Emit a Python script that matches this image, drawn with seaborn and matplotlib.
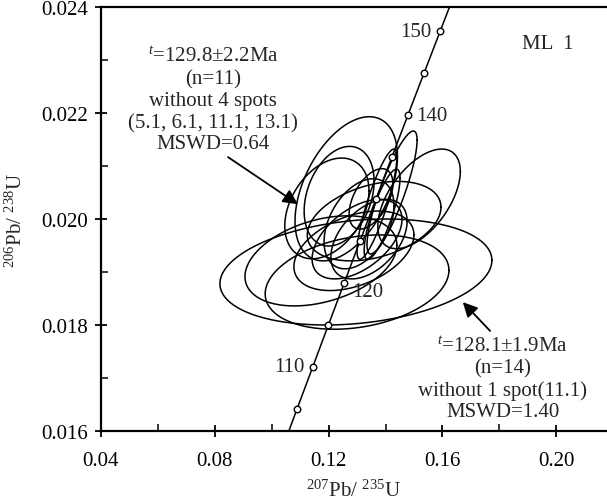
import numpy as np
import pandas as pd
import matplotlib
matplotlib.use("Agg")
import matplotlib.pyplot as plt
import seaborn as sns

# ---- data ----
# ellipse centres (207Pb/235U, 206Pb/238U), 2-sigma half widths and error correlation
ell_x = [0.1296, 0.1300, 0.1173, 0.1289, 0.1300, 0.1262, 0.1237, 0.1423,
         0.1518, 0.1370, 0.1388, 0.1349, 0.1307, 0.1342, 0.1360, 0.1194]
ell_y = [0.01900, 0.01881, 0.01921, 0.01940, 0.01962, 0.02057, 0.02043, 0.02050,
         0.02038, 0.02028, 0.02009, 0.02038, 0.01991, 0.01962, 0.01996, 0.02020]
ell_sx = [0.0478, 0.0323, 0.0267, 0.0211, 0.0158, 0.0180, 0.0123, 0.0088,
          0.0145, 0.0070, 0.0063, 0.0077, 0.0123, 0.0134, 0.0235, 0.0148]
ell_sy = [0.00100, 0.00089, 0.00085, 0.00075, 0.00075, 0.00136, 0.00094, 0.00116,
          0.00094, 0.00104, 0.00085, 0.00057, 0.00085, 0.00075, 0.00075, 0.00095]
ell_rho = [0.22, 0.25, 0.35, 0.40, 0.50, 0.45, 0.30, 0.85,
           0.55, 0.85, 0.80, 0.50, 0.40, 0.45, 0.35, 0.35]

marker_ages = [105, 110, 115, 120, 125, 130, 135, 140, 145, 150]
label_ages = [110, 120, 140, 150]
label_side = ["left", "below-right", "right", "left"]

LAMBDA238 = 1.55125e-10
LAMBDA235 = 9.8485e-10

xticks = [0.04, 0.08, 0.12, 0.16, 0.20]
yticks = [0.016, 0.018, 0.020, 0.022, 0.024]

text1 = ["129.8\u00b12.2Ma", "(n=11)", "without 4 spots", "(5.1, 6.1, 11.1, 13.1)", "MSWD=0.64"]
text2 = ["128.1\u00b11.9Ma", "(n=14)", "without 1 spot(11.1)", "MSWD=1.40"]

# ---- style ----
sns.set_theme(style="white")
plt.rcParams["font.family"] = ["Liberation Serif", "DejaVu Serif"]
plt.rcParams["mathtext.fontset"] = "custom"
plt.rcParams["mathtext.rm"] = "Liberation Serif"
plt.rcParams["mathtext.it"] = "Liberation Serif:italic"
FS = 15

fig = plt.figure(figsize=(6.07, 5.02), dpi=100)
ax = fig.add_axes([101 / 607, 70 / 502, 506 / 607, 424 / 502])

# ellipses
theta = np.linspace(0, 2 * np.pi, 200)
rows = []
for i in range(len(ell_x)):
    r = ell_rho[i]
    xs = ell_x[i] + ell_sx[i] * np.cos(theta)
    ys = ell_y[i] + ell_sy[i] * (r * np.cos(theta) + np.sqrt(1 - r * r) * np.sin(theta))
    rows.append(pd.DataFrame({"x": xs, "y": ys, "id": i}))
edf = pd.concat(rows, ignore_index=True)
sns.lineplot(data=edf, x="x", y="y", units="id", estimator=None, sort=False,
             color="black", linewidth=1.1, ax=ax, legend=False)

# concordia
t = np.linspace(95e6, 160e6, 400)
cdf = pd.DataFrame({"x": np.exp(LAMBDA235 * t) - 1, "y": np.exp(LAMBDA238 * t) - 1})
sns.lineplot(data=cdf, x="x", y="y", sort=False, estimator=None, color="black",
             linewidth=1.1, ax=ax)

ma = np.array(marker_ages) * 1e6
mdf = pd.DataFrame({"x": np.exp(LAMBDA235 * ma) - 1, "y": np.exp(LAMBDA238 * ma) - 1})
sns.scatterplot(data=mdf, x="x", y="y", marker="o", s=22, facecolor="white",
                edgecolor="black", linewidth=1.0, ax=ax, zorder=5)

offsets = {"left": ((-6, 0), "right"), "right": ((6, 0), "left"),
           "below-right": ((6, -6), "left")}
for age, side in zip(label_ages, label_side):
    xa = np.exp(LAMBDA235 * age * 1e6) - 1
    ya = np.exp(LAMBDA238 * age * 1e6) - 1
    off, ha = offsets[side]
    ax.annotate(str(age), (xa, ya), xytext=off, textcoords="offset points",
                ha=ha, va="center", fontsize=FS)

ax.set_xlim(0.04, 0.04 + 506 / 2845)
ax.set_ylim(0.016, 0.024)
ax.set_xticks(xticks)
ax.set_xticklabels([f"{v:.2f}" for v in xticks])
ax.set_yticks(yticks)
ax.set_yticklabels([f"{v:.3f}" for v in yticks])
ax.set_xticks([0.06, 0.10, 0.14, 0.18], minor=True)
ax.set_yticks([0.017, 0.019, 0.021, 0.023], minor=True)
ax.tick_params(axis="both", which="major", direction="inout", length=9, width=1.3,
               color="black", labelsize=FS, labelcolor="black")
ax.tick_params(axis="both", which="minor", direction="in", length=5, width=1.1, color="black")
ax.tick_params(axis="x", which="major", pad=10)
ax.tick_params(axis="y", which="major", pad=5)
ax.tick_params(top=False, right=False, which="both", bottom=True, left=True)

for s in ["left", "bottom", "top"]:
    ax.spines[s].set_color("black")
    ax.spines[s].set_linewidth(1.6)
ax.spines["right"].set_visible(False)

ax.set_xlabel(r"$^{207}$Pb/ $^{235}$U", fontsize=FS, labelpad=7)
ax.set_ylabel(r"$^{206}$Pb/ $^{238}$U", fontsize=FS, labelpad=10)

# annotations
ys1 = [0.884, 0.830, 0.779, 0.727, 0.677]
for i, line in enumerate(text1):
    s = (r"$^{t}$=" + line) if i == 0 else line
    ax.text(0.221, ys1[i], s, transform=ax.transAxes, ha="center", va="center", fontsize=FS)
ys2 = [0.200, 0.149, 0.097, 0.045]
for i, line in enumerate(text2):
    s = (r"$^{t}$=" + line) if i == 0 else line
    ax.text(0.794, ys2[i], s, transform=ax.transAxes, ha="center", va="center", fontsize=FS)

ax.text(0.883, 0.913, "ML  1", transform=ax.transAxes, ha="center", va="center", fontsize=FS)

ap = dict(arrowstyle="-|>", color="black", lw=1.3, mutation_scale=22, shrinkA=0, shrinkB=0)
ax.annotate("", xy=(0.389, 0.535), xytext=(0.251, 0.646), xycoords="axes fraction",
            textcoords="axes fraction", arrowprops=ap)
ax.annotate("", xy=(0.715, 0.304), xytext=(0.769, 0.236), xycoords="axes fraction",
            textcoords="axes fraction", arrowprops=ap)

fig.savefig("out.png", dpi=100)
